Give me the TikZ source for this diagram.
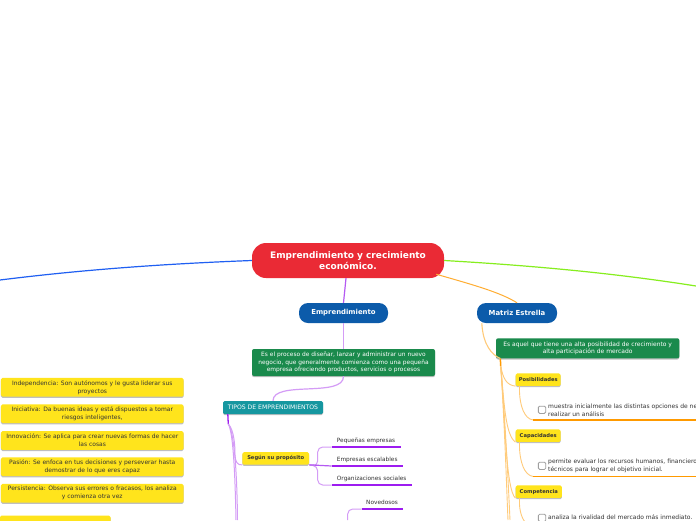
\documentclass[tikz,border=0pt]{standalone}
\usepackage{fontspec}
\setmainfont{DejaVu Sans}
\usetikzlibrary{shadows}
\definecolor{cred}{HTML}{EA2A35}
\definecolor{cblue}{HTML}{0C5BAA}
\definecolor{cgreen}{HTML}{1A8A4C}
\definecolor{cteal}{HTML}{1697A0}
\definecolor{cyellow}{HTML}{FFE41C}
\definecolor{ctext}{HTML}{333333}
\definecolor{cpd}{HTML}{9D1CF0}
\definecolor{cpl}{HTML}{D49CF6}
\definecolor{cpm}{HTML}{B45AF2}
\definecolor{cod}{HTML}{FF9A00}
\definecolor{col}{HTML}{FFCB7A}
\definecolor{cbl}{HTML}{1F5FF2}
\definecolor{cgl}{HTML}{86EE1E}
\tikzset{
  base/.style={inner sep=0pt, align=center, text=white},
  rootbox/.style={base, fill=cred, rounded corners=14pt, minimum width=192pt, minimum height=35pt, font=\bfseries\fontsize{9}{11}\selectfont},
  topicbox/.style={base, fill=cblue, rounded corners=9pt, minimum height=20pt, font=\bfseries\fontsize{6.9}{8}\selectfont},
  shade1/.style={drop shadow={shadow xshift=0pt, shadow yshift=-1.2pt, opacity=0.25, fill=black}},
  greenbox/.style={base, fill=cgreen, rounded corners=2pt, font=\fontsize{5.9}{7.5}\selectfont, shade1},
  tealbox/.style={base, fill=cteal, rounded corners=1.5pt, minimum width=100pt, minimum height=13pt, font=\fontsize{6.1}{7}\selectfont, shade1},
  ybox/.style={inner sep=0pt, align=center, fill=cyellow, text=ctext, rounded corners=1.5pt, font=\fontsize{6}{8}\selectfont, minimum width=182.7pt, minimum height=18.7pt, shade1},
  tagbox/.style={inner sep=0pt, fill=cyellow, text=ctext, rounded corners=1.5pt, font=\bfseries\fontsize{5.2}{6}\selectfont, minimum height=12.5pt, shade1},
  leaf/.style={inner sep=0pt, text=ctext, font=\fontsize{5.8}{7}\selectfont, anchor=base west},
  note/.style={inner sep=0pt, text=ctext, font=\fontsize{6}{8}\selectfont, align=left, anchor=west},
  chk/.style={draw=gray!75, fill=white, rounded corners=1.3pt, minimum size=7.3pt, inner sep=0pt, line width=0.8pt},
  plight/.style={draw=cpl, line width=1pt},
  pmid/.style={draw=cpm, line width=1.2pt},
  pdark/.style={draw=cpd, line width=1.5pt},
  olight/.style={draw=col, line width=0.9pt},
  odark/.style={draw=cod, line width=1.5pt},
}
\begin{document}
\begin{tikzpicture}[x=1pt,y=-1pt]
\useasboundingbox (0,0) rectangle (696,520);
\clip (0,0) rectangle (696,520);
\fill[white] (0,0) rectangle (696,520);

% main nodes
\node[rootbox] (root) at (348,260.5) {Emprendimiento y crecimiento\\económico.};
\node[topicbox, minimum width=89pt] (emp) at (343.5,313) {Emprendimiento};
\node[topicbox, minimum width=80pt] (mat) at (517,313) {Matriz Estrella};

% outgoing main connectors
\coordinate (blueend) at (0,280);
\coordinate (greenend) at (696,286);
\draw[cbl, line width=1.2pt] (root.west) .. controls (160,264) and (80,270) .. (blueend);
\draw[cgl, line width=1.2pt] (root.east) .. controls (540,266) and (620,274) .. (greenend);
\draw[cod!80, line width=1pt] ([xshift=-8pt,yshift=4pt]root.south east) .. controls (470,284) and (500,292) .. (mat.north);
\draw[pmid] ([xshift=-2pt]root.south) -- (emp.north);

% Emprendimiento branch
\node[greenbox, minimum width=183pt, minimum height=27pt] (def1) at (343.5,362.5)
  {Es el proceso de diseñar, lanzar y administrar un nuevo\\negocio, que generalmente comienza como una pequeña\\empresa ofreciendo productos, servicios o procesos};
\draw[plight, line width=1.4pt] (emp.south) -- (def1.north);
\node[tealbox] (tipos) at (273,407.5) {TIPOS DE EMPRENDIMIENTOS};
\draw[plight, line width=1.2pt] (def1.south) .. controls (344,398) and (273,380) .. (tipos.north);

\node[tagbox, minimum width=66.7pt] (segun) at (275.7,458.4) {Según su propósito};
\coordinate (tp) at ([xshift=5pt]tipos.south west);
\coordinate (tp2) at (228.3,424);
\coordinate (pend1) at (236,520);
\coordinate (pend2) at (237.5,520);
\draw[pdark, line width=1.3pt] (tp) -- (tp2);
\draw[plight] (tp2) .. controls (234,430) and (235,445) .. (235,455) .. controls (235,462) and (238,465.5) .. (segun.south west);
\draw[plight] (tp2) .. controls (233,432) and (235,470) .. (pend1);
\draw[plight] (tp2) .. controls (234,432) and (237,470) .. (pend2);

% Según su propósito leaves
\node[leaf] (peq) at (336.7,442.4) {Pequeñas empresas};
\node[leaf] (esc) at (336.7,461.4) {Empresas escalables};
\node[leaf] (org) at (336.7,480.4) {Organizaciones sociales};
\coordinate (u1a) at (331.7,447); \coordinate (u1b) at (400.7,447);
\coordinate (u2a) at (331.7,466); \coordinate (u2b) at (403,466);
\coordinate (u3a) at (331.7,485); \coordinate (u3b) at (412.3,485);
\draw[plight, rounded corners=5pt] (segun.south east) -- (317.7,466) -- (317.7,447) -- (u1a);
\draw[plight, rounded corners=5pt] (segun.south east) -- (317.7,466) -- (317.7,485) -- (u3a);
\draw[pmid] (segun.south east) -- (u2a);
\draw[pdark] (u1a) -- (u1b);
\draw[pdark] (u2a) -- (u2b);
\draw[pdark] (u3a) -- (u3b);

\node[leaf] (nov) at (366,504.6) {Novedosos};
\coordinate (u4a) at (361.7,509); \coordinate (u4b) at (403.3,509);
\coordinate (nb) at (347.7,520);
\draw[plight, rounded corners=5pt] (nb) -- (347.7,509) -- (u4a);
\draw[pdark] (u4a) -- (u4b);

% left column of characteristics
\node[ybox] (ind) at (92.3,387.3) {Independencia: Son autónomos y le gusta liderar sus\\proyectos};
\node[ybox] (ini) at (92.3,413.8) {Iniciativa: Da buenas ideas y está dispuestos a tomar\\riesgos inteligentes,};
\node[ybox] (inn) at (92.3,440.5) {Innovación: Se aplica para crear nuevas formas de hacer\\las cosas};
\node[ybox] (pas) at (92.3,466.7) {Pasión: Se enfoca en tus decisiones y perseverar hasta\\demostrar de lo que eres capaz};
\node[ybox] (per) at (92.3,493.3) {Persistencia: Observa sus errores o fracasos, los analiza\\y comienza otra vez};
\node[ybox, minimum width=110.7pt] (sixth) at (55.3,525) {};

% Matriz Estrella branch
\node[greenbox, minimum width=183.3pt, minimum height=20pt, font=\fontsize{6}{7.5}\selectfont] (def2) at (587.7,348.3)
  {Es aquel que tiene una alta posibilidad de crecimiento y\\alta participación de mercado};
\coordinate (ot0) at ([xshift=4.5pt]def2.south west);
\coordinate (ot) at (500.7,366);
\draw[olight, line width=1.1pt] ([xshift=5pt]mat.south west) .. controls (483,345) and (492,355) .. (ot0);
\draw[odark] (ot0) -- (ot);

\node[tagbox, minimum width=45pt] (pos) at (538.2,379.7) {Posibilidades};
\node[tagbox, minimum width=45pt] (cap) at (538.2,435.7) {Capacidades};
\node[tagbox, minimum width=46.3pt] (com) at (538.8,491.7) {Competencia};

\coordinate (oend1) at (508,520);
\coordinate (oend2) at (510,520);
\draw[olight] (ot) .. controls (503,378) and (506,385) .. (pos.south west);
\draw[olight] (ot) .. controls (504,400) and (505,435) .. (cap.south west);
\draw[olight] (ot) .. controls (505,420) and (506,490) .. (com.south west);
\draw[olight] (ot) .. controls (505,430) and (507,500) .. (oend1);
\draw[olight] (ot) .. controls (506,430) and (509,500) .. (oend2);

% notes with checkboxes
\node[chk] (c1) at (542,409.8) {};
\node[note] (n1) at (548,410.3) {muestra inicialmente las distintas opciones de ne\\realizar un análisis};
\coordinate (v1a) at (533.3,420); \coordinate (v1b) at (696,420);
\draw[olight] ([xshift=4pt]pos.south west) -- ++(0,6) .. controls (520,405) and (524,419) .. (v1a);
\draw[odark] (v1a) -- (v1b);

\node[chk] (c2) at (542,465.8) {};
\node[note] (n2) at (548,466.3) {permite evaluar los recursos humanos, financiero\\técnicos para lograr el objetivo inicial.};
\coordinate (v2a) at (533.3,476.5); \coordinate (v2b) at (696,476.5);
\draw[olight] ([xshift=4pt]cap.south west) -- ++(0,6) .. controls (520,461) and (524,475.5) .. (v2a);
\draw[odark] (v2a) -- (v2b);

\node[chk] (c3) at (542,517.8) {};
\node[note, anchor=base west] (n3) at (548,519.6) {analiza la rivalidad del mercado más inmediato.};
\coordinate (v3a) at (530,525);
\draw[olight] ([xshift=4pt]com.south west) -- ++(0,6) .. controls (520,515) and (524,524) .. (v3a);
\end{tikzpicture}
\end{document}
